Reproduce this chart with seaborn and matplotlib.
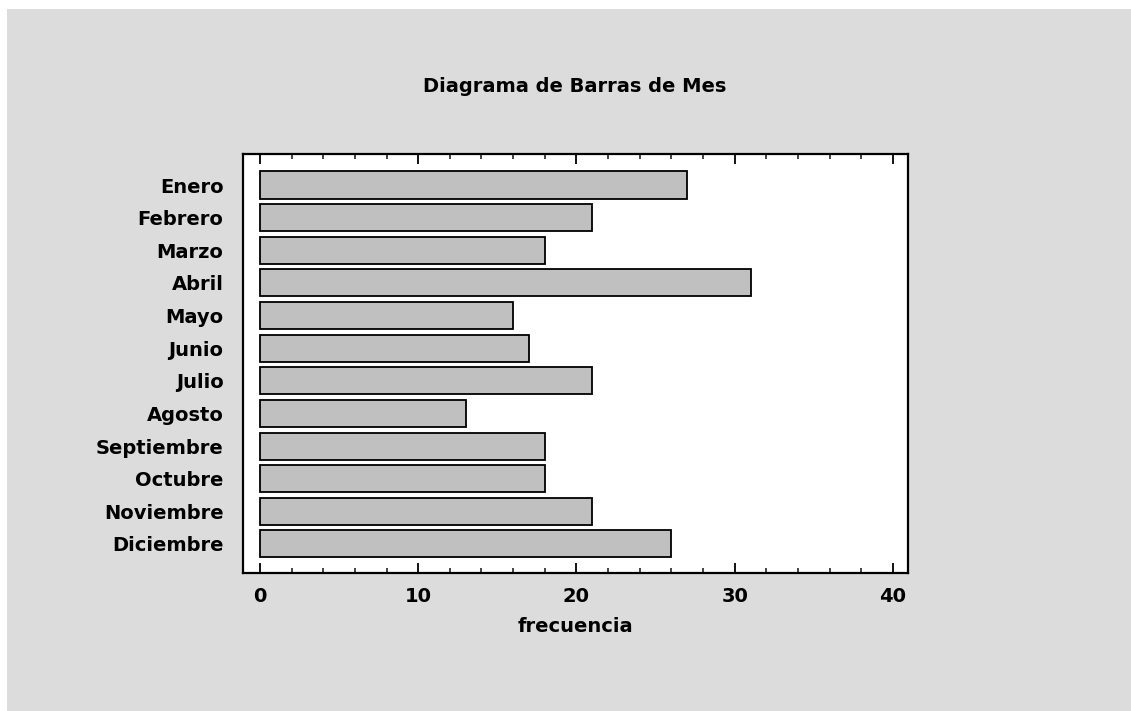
import matplotlib
matplotlib.use("Agg")
import matplotlib.pyplot as plt
from matplotlib.patches import Rectangle
from matplotlib.ticker import MultipleLocator
import seaborn as sns

# datos
meses = ["Enero", "Febrero", "Marzo", "Abril", "Mayo", "Junio", "Julio",
         "Agosto", "Septiembre", "Octubre", "Noviembre", "Diciembre"]
frecuencia = [27, 21, 18, 31, 16, 17, 21, 13, 18, 18, 21, 26]
x_ticks = [0, 10, 20, 30, 40]

sns.set_theme(style="white")
plt.rcParams["font.family"] = ["DejaVu Sans"]
plt.rcParams["font.weight"] = "bold"

fig = plt.figure(figsize=(11.31, 7.11), dpi=100, facecolor="white")
# panel gris de fondo
fig.patches.append(Rectangle((7 / 1131, 0), 1, 1 - 9 / 711, transform=fig.transFigure,
                             facecolor="#DCDCDC", edgecolor="none", zorder=-1))

ax = fig.add_axes([243 / 1131, 1 - 573 / 711, (908 - 243) / 1131, (573 - 154) / 711])
ax.set_facecolor("white")

sns.barplot(x=frecuencia, y=meses, orient="h", color="#C0C0C0", saturation=1,
            edgecolor="black", linewidth=1.3, width=0.83, ax=ax)

ax.set_xlim(-1.07, 40.95)
ax.set_ylim(11.89, -0.95)
ax.set_xticks(x_ticks)
ax.xaxis.set_minor_locator(MultipleLocator(2))
ax.tick_params(axis="x", which="major", direction="in", length=7, width=1.3,
               top=True, bottom=True, pad=10, labelsize=14, colors="black")
ax.tick_params(axis="x", which="minor", direction="in", length=3.5, width=1.2,
               top=True, bottom=True)
ax.tick_params(axis="y", length=0, pad=14, labelsize=14, colors="black")
for lab in ax.get_xticklabels() + ax.get_yticklabels():
    lab.set_fontweight("bold")

for s in ax.spines.values():
    s.set_visible(True)
    s.set_color("black")
    s.set_linewidth(1.6)

ax.set_xlabel("frecuencia", fontsize=14, fontweight="bold", labelpad=8, color="black")
ax.set_ylabel("")

fig.text(575 / 1131, 1 - 87 / 711, "Diagrama de Barras de Mes", ha="center", va="center",
         fontsize=14, fontweight="bold", color="black")

fig.savefig("out.png", dpi=100, facecolor=fig.get_facecolor())
